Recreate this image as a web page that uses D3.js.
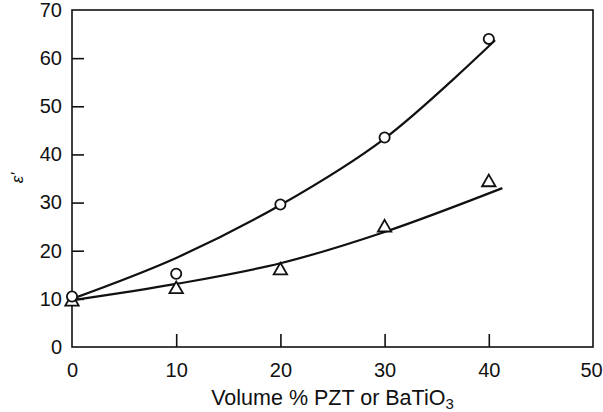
<!DOCTYPE html>
<html>
<head>
<meta charset="utf-8">
<script src="https://cdn.jsdelivr.net/npm/d3@7"></script>
<style>
    html, body { margin: 0; padding: 0; background: #fff; }
    #chart { width: 603px; height: 412px; }
    text { font-family: "Liberation Sans", Arial, sans-serif; fill: #111; }
</style>
</head>
<body>
<div id="chart"></div>
<script>
// Measured points
const volume = [0, 10, 20, 30, 40];
const pztEps = [10.5, 15.2, 29.6, 43.5, 64.0];
const batioEps = [9.4, 12.0, 15.9, 24.8, 34.2];

// Hand-drawn trend curves
const pztCurveX = [0, 10, 20, 30, 40.6];
const pztCurveY = [10, 18.5, 29.5, 43.3, 63.7];
const batioCurveX = [0, 10, 20, 30, 41.3];
const batioCurveY = [9.7, 13.1, 17.4, 23.9, 33.0];

const xTicks = [0, 10, 20, 30, 40, 50];
const yTicks = [0, 10, 20, 30, 40, 50, 60, 70];

const width = 603;
const height = 412;
const margin = { top: 10, right: 10, bottom: 65, left: 72 };

const x = d3.scaleLinear().domain([0, 50]).range([margin.left, width - margin.right]);
const y = d3.scaleLinear().domain([0, 70]).range([height - margin.bottom, margin.top]);

const svg = d3.create("svg")
    .attr("width", width)
    .attr("height", height)
    .attr("viewBox", [0, 0, width, height]);

// inward ticks, labels outside
const xAxis = d3.axisBottom(x).tickValues(xTicks).tickSize(-13).tickPadding(16).tickSizeOuter(0);
const yAxis = d3.axisLeft(y).tickValues(yTicks).tickSize(-12).tickPadding(10).tickSizeOuter(0);

const gx = svg.append("g")
    .attr("transform", `translate(0,${height - margin.bottom})`)
    .call(xAxis);
const gy = svg.append("g")
    .attr("transform", `translate(${margin.left},0)`)
    .call(yAxis);

[gx, gy].forEach(g => {
    g.select(".domain").remove();
    g.selectAll(".tick line").attr("stroke", "#111").attr("stroke-width", 1.6);
    g.selectAll(".tick text")
        .attr("font-size", 20)
        .attr("font-family", "'Liberation Sans', Arial, sans-serif")
        .attr("fill", "#111");
});
// no tick marks on the frame edges
gx.selectAll(".tick").filter(d => d === 0 || d === 50).select("line").remove();
gy.selectAll(".tick").filter(d => d === 0 || d === 70).select("line").remove();
// last x label sits against the page edge
gx.selectAll(".tick").filter(d => d === 50).select("text").attr("dx", -2);

// frame
svg.append("rect")
    .attr("x", x(0))
    .attr("y", y(70))
    .attr("width", x(50) - x(0))
    .attr("height", y(0) - y(70))
    .attr("fill", "none")
    .attr("stroke", "#111")
    .attr("stroke-width", 1.6);

const line = d3.line()
    .x(d => x(d[0]))
    .y(d => y(d[1]))
    .curve(d3.curveCatmullRom.alpha(0.5));

const curves = [
    d3.zip(pztCurveX, pztCurveY),
    d3.zip(batioCurveX, batioCurveY)
];

svg.append("g")
    .selectAll("path")
    .data(curves)
    .join("path")
    .attr("d", line)
    .attr("fill", "none")
    .attr("stroke", "#111")
    .attr("stroke-width", 2.2);

const triangle = d3.symbol().type(d3.symbolTriangle).size(78);
const circle = d3.symbol().type(d3.symbolCircle).size(82);

svg.append("g")
    .selectAll("path")
    .data(d3.zip(volume, batioEps))
    .join("path")
    .attr("transform", d => `translate(${x(d[0])},${y(d[1])})`)
    .attr("d", triangle)
    .attr("fill", "#fff")
    .attr("stroke", "#111")
    .attr("stroke-width", 1.8);

svg.append("g")
    .selectAll("path")
    .data(d3.zip(volume, pztEps))
    .join("path")
    .attr("transform", d => `translate(${x(d[0])},${y(d[1])})`)
    .attr("d", circle)
    .attr("fill", "#fff")
    .attr("stroke", "#111")
    .attr("stroke-width", 1.8);

// axis titles
const xTitle = svg.append("text")
    .attr("x", (x(0) + x(50)) / 2)
    .attr("y", 405)
    .attr("text-anchor", "middle")
    .attr("font-size", 21.5);
xTitle.append("tspan").text("Volume % PZT or BaTiO");
xTitle.append("tspan").text("3").attr("font-size", 15).attr("dy", 4);

svg.append("text")
    .attr("transform", "translate(23,178) rotate(-90)")
    .attr("text-anchor", "middle")
    .attr("font-family", "'DejaVu Serif', 'Liberation Serif', serif")
    .attr("font-style", "italic")
    .attr("font-size", 17)
    .text("ε'");

document.getElementById("chart").appendChild(svg.node());
</script>
</body>
</html>
